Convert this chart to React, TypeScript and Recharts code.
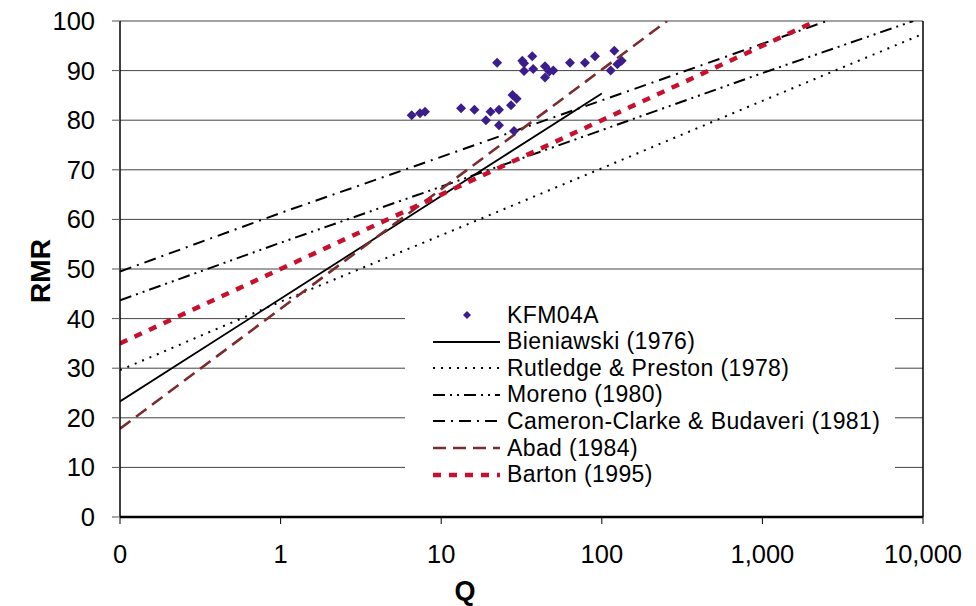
import React from 'react';
import {
  ComposedChart,
  Line,
  Scatter,
  XAxis,
  YAxis,
  CartesianGrid,
  ReferenceLine,
  Legend,
} from 'recharts';

// ---------- data ----------
const xTicks = [0.1, 1, 10, 100, 1000, 10000];
const xTickLabels = ['0', '1', '10', '100', '1,000', '10,000'];
const yTicks = [0, 10, 20, 30, 40, 50, 60, 70, 80, 90, 100];

const kfmQ = [6.55, 7.38, 7.93, 13.3, 16.1, 19.0, 20.3, 22.9, 22.9, 27.2, 27.8, 29.5, 28.4, 22.3, 32.0, 32.8, 32.8, 36.9, 37.4, 44.3, 44.3, 47.1, 49.9, 63.4, 78.5, 90.7, 119.7, 113.6, 125, 133];
const kfmRMR = [81.0, 81.4, 81.7, 82.4, 82.1, 80.0, 81.7, 82.1, 79.0, 83.0, 85.1, 84.3, 77.8, 91.6, 92.0, 91.5, 89.9, 92.9, 90.3, 90.9, 88.6, 89.8, 90.0, 91.6, 91.6, 92.9, 94.0, 90.0, 91.3, 92.0];

const bieniawskiQ = [0.1, 1, 10, 100];
const bieniawskiRMR = [23.3, 44.0, 64.7, 85.4];

const rutledgeQ = [0.1, 1, 10, 100, 1000, 10000];
const rutledgeRMR = [29.6, 43.4, 56.8, 70.3, 83.9, 97.4];

const morenoQ = [0.1, 1, 10, 100, 1000, 8700];
const morenoRMR = [43.7, 55.3, 66.6, 78.0, 89.5, 100];

const cameronQ = [0.1, 1, 10, 100, 1000, 2520];
const cameronRMR = [49.5, 61.3, 72.6, 84.0, 95.4, 100];

const abadQ = [0.1, 1, 10, 100, 255];
const abadRMR = [17.8, 42.0, 66.1, 90.2, 100];

const bartonQ = [0.1, 1, 10, 100, 1000, 2154];
const bartonRMR = [35.0, 50.0, 65.0, 80.0, 95.0, 100];

const zip = (xs: number[], ys: number[]) => xs.map((x, i) => ({ x, y: ys[i] }));

const kfmData = zip(kfmQ, kfmRMR);

type SeriesDef = {
  name: string;
  data: { x: number; y: number }[];
  stroke: string;
  width: number;
  dash?: string;
};

const lineSeries: SeriesDef[] = [
  { name: 'Bieniawski (1976)', data: zip(bieniawskiQ, bieniawskiRMR), stroke: '#000000', width: 1.8 },
  { name: 'Rutledge & Preston (1978)', data: zip(rutledgeQ, rutledgeRMR), stroke: '#000000', width: 2, dash: '2 6' },
  { name: 'Moreno (1980)', data: zip(morenoQ, morenoRMR), stroke: '#000000', width: 2, dash: '12 5 2 5 2 5' },
  { name: 'Cameron-Clarke & Budaveri (1981)', data: zip(cameronQ, cameronRMR), stroke: '#000000', width: 2, dash: '12 6 2 6' },
  { name: 'Abad (1984)', data: zip(abadQ, abadRMR), stroke: '#7B2D2D', width: 2.6, dash: '13 7' },
  { name: 'Barton (1995)', data: zip(bartonQ, bartonRMR), stroke: '#C8102E', width: 4.5, dash: '8 8' },
];

const FONT = '"Liberation Sans", Arial, sans-serif';
const MARKER = '#3B1E8C';

const Diamond = (props: any) => {
  const { cx, cy } = props;
  if (cx == null || cy == null) return null;
  const r = 5;
  return (
    <polygon
      points={`${cx},${cy - r} ${cx + r},${cy} ${cx},${cy + r} ${cx - r},${cy}`}
      fill={MARKER}
    />
  );
};

const LegendBox = () => (
  <div
    style={{
      background: '#ffffff',
      width: 490,
      height: 205,
      fontFamily: FONT,
      fontSize: 23,
      color: '#000',
      position: 'relative',
    }}
  >
    {[{ name: 'KFM04A' } as any, ...lineSeries].map((s, i) => (
      <div
        key={s.name}
        style={{
          position: 'absolute',
          left: 0,
          top: 8 + i * 26.6,
          height: 26,
          display: 'flex',
          alignItems: 'center',
          whiteSpace: 'nowrap',
        }}
      >
        <svg width={100} height={26} style={{ display: 'block' }}>
          {i === 0 ? (
            <polygon points="62,9 66,13 62,17 58,13" fill={MARKER} />
          ) : (
            <line
              x1={28}
              y1={13}
              x2={95}
              y2={13}
              stroke={s.stroke}
              strokeWidth={s.width}
              strokeDasharray={s.dash}
            />
          )}
        </svg>
        <span style={{ marginLeft: 2, letterSpacing: 0.4 }}>{s.name}</span>
      </div>
    ))}
  </div>
);

export default function App() {
  return (
    <div style={{ position: 'absolute', left: 0, top: 0, width: 976, height: 606, background: '#fff' }}>
      <ComposedChart
        width={976}
        height={606}
        margin={{ top: 21, right: 53, bottom: 0, left: 0 }}
      >
        <CartesianGrid horizontal vertical={false} stroke="#444" strokeWidth={1} />
        <XAxis
          type="number"
          dataKey="x"
          scale="log"
          domain={[0.1, 10000]}
          ticks={xTicks}
          tickFormatter={(v: number) => xTickLabels[xTicks.indexOf(v)] ?? String(v)}
          allowDataOverflow
          interval={0}
          height={89}
          tickSize={7}
          tickMargin={21}
          axisLine={{ stroke: '#000', strokeWidth: 2.5 }}
          tickLine={{ stroke: '#000', strokeWidth: 1 }}
          tick={{ fill: '#000', fontSize: 25.5, fontFamily: FONT }}
        />
        <YAxis
          type="number"
          dataKey="y"
          domain={[0, 100]}
          ticks={yTicks}
          interval={0}
          width={120}
          tickSize={8}
          tickMargin={17}
          allowDataOverflow
          axisLine={{ stroke: '#000', strokeWidth: 1.5 }}
          tickLine={{ stroke: '#555', strokeWidth: 1 }}
          tick={{ fill: '#000', fontSize: 25.5, fontFamily: FONT }}
        />
        <ReferenceLine x={10000} stroke="#000" strokeWidth={1.5} />
        <Scatter
          name="KFM04A"
          data={kfmData}
          dataKey="y"
          fill={MARKER}
          shape={<Diamond />}
          isAnimationActive={false}
          legendType="diamond"
        />
        {lineSeries.map((s) => (
          <Line
            key={s.name}
            name={s.name}
            data={s.data}
            dataKey="y"
            type="linear"
            stroke={s.stroke}
            strokeWidth={s.width}
            strokeDasharray={s.dash}
            dot={false}
            activeDot={false}
            isAnimationActive={false}
          />
        ))}
        <Legend
          layout="vertical"
          align="center"
          verticalAlign="middle"
          content={() => <LegendBox />}
          wrapperStyle={{ position: 'absolute', left: 405, top: 294, width: 490, height: 205 }}
        />
      </ComposedChart>
      <div
        style={{
          position: 'absolute',
          left: 41,
          top: 271,
          transform: 'translate(-50%, -50%) rotate(-90deg)',
          fontFamily: FONT,
          fontWeight: 'bold',
          fontSize: 28,
          color: '#000',
          whiteSpace: 'nowrap',
        }}
      >
        RMR
      </div>
      <div
        style={{
          position: 'absolute',
          left: 465,
          top: 591,
          transform: 'translate(-50%, -50%)',
          fontFamily: FONT,
          fontWeight: 'bold',
          fontSize: 27,
          color: '#000',
        }}
      >
        Q
      </div>
    </div>
  );
}
